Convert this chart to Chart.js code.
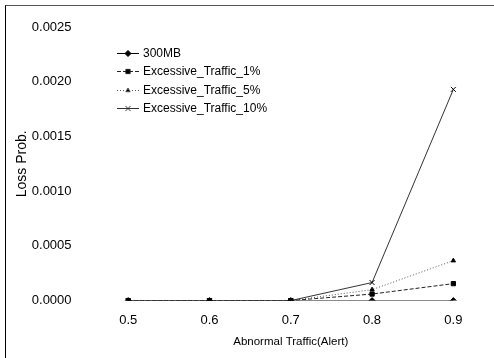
<!DOCTYPE html>
<html>
<head>
<meta charset="utf-8">
<script src="https://cdn.jsdelivr.net/npm/chart.js@4"></script>
<style>
    body { margin: 0; background: white; }
    #wrap { position: relative; width: 494px; height: 358px; overflow: hidden; }
    #frame { position: absolute; left: 5px; top: 5px; right: 0; bottom: 0;
        border-left: 1px solid #000; border-top: 1px solid #555; }
    canvas { position: absolute; left: 0; top: 0; }
</style>
</head>
<body>
<div id="wrap">
    <div id="frame"></div>
    <canvas id="lossChart" width="499" height="358"></canvas>
</div>
<script>
var alertLevels = ['0.5', '0.6', '0.7', '0.8', '0.9'];
var seriesNames = ['300MB', 'Excessive_Traffic_1%', 'Excessive_Traffic_5%', 'Excessive_Traffic_10%'];
var mb300 = [0, 0, 0, 0, 0];
var excessive1 = [0, 0, 0, 0.00006, 0.000155];
var excessive5 = [0, 0, 0, 0.0001, 0.000365];
var excessive10 = [0, 0, 0, 0.000165, 0.00193];
var yTicks = [0, 0.0005, 0.001, 0.0015, 0.002, 0.0025];

var ctx = document.getElementById('lossChart').getContext('2d');
Chart.defaults.font.family = '"Liberation Sans", Arial, sans-serif';
Chart.defaults.font.size = 12;
Chart.defaults.color = '#000';

function ds(label, data, pointStyle, dash, color, radius) {
    return {
        label: label,
        data: data,
        borderColor: color,
        backgroundColor: '#000',
        borderWidth: 1,
        borderDash: dash,
        pointStyle: pointStyle,
        pointRadius: radius,
        pointBorderColor: '#000',
        pointBorderWidth: 1,
        tension: 0
    };
}

// legend drawn inside the plot, line + marker like the original
var innerLegend = {
    id: 'innerLegend',
    afterDraw: function (chart) {
        var c = chart.ctx;
        var x0 = 117, y0 = 53, rowH = 18.3;
        c.save();
        chart.data.datasets.forEach(function (d, i) {
            var y = Math.round(y0 + i * rowH) + 0.5;
            c.strokeStyle = d.borderColor;
            c.lineWidth = 1;
            c.setLineDash(d.borderDash || []);
            c.beginPath();
            c.moveTo(x0, y);
            c.lineTo(x0 + 22, y);
            c.stroke();
            c.setLineDash([]);
            Chart.helpers.drawPoint(c, {
                pointStyle: d.pointStyle, radius: d.pointRadius, rotation: 0, borderWidth: 1
            }, x0 + 11, y);
            c.fillStyle = '#000';
            c.font = '12px "Liberation Sans", Arial, sans-serif';
            c.textBaseline = 'middle';
            c.fillText(d.label, x0 + 26, y);
        });
        c.restore();
    }
};

var lossChart = new Chart(ctx, {
    type: 'line',
    data: {
        labels: alertLevels,
        datasets: [
            ds(seriesNames[0], mb300, 'rectRot', [], '#000', 3),
            ds(seriesNames[1], excessive1, 'rect', [4, 2], '#222', 3),
            ds(seriesNames[2], excessive5, 'triangle', [1, 2], '#555', 2.5),
            ds(seriesNames[3], excessive10, 'crossRot', [], '#333', 3.5)
        ]
    },
    options: {
        responsive: false,
        animation: false,
        layout: {
            padding: { left: 12, right: 0, top: 27, bottom: 9 }
        },
        scales: {
            x: {
                offset: true,
                grid: { display: false, drawTicks: false },
                border: { display: false },
                ticks: { padding: 12, font: { size: 13 } },
                title: { display: true, text: 'Abnormal Traffic(Alert)', font: { size: 11.5 }, padding: { top: -5, bottom: 0 } }
            },
            y: {
                min: 0,
                max: 0.0025,
                afterBuildTicks: function (axis) {
                    axis.ticks = yTicks.map(function (v) { return { value: v }; });
                },
                grid: { display: false, drawTicks: false },
                border: { display: false },
                ticks: {
                    padding: 16,
                    font: { size: 13 },
                    callback: function (value) { return value.toFixed(4); }
                },
                // tick padding counts twice in the axis width, pull the title back in
                title: { display: true, text: 'Loss Prob.', font: { size: 14 }, padding: { top: 2, bottom: -15 } }
            }
        },
        plugins: {
            legend: { display: false },
            tooltip: { enabled: false }
        }
    },
    plugins: [innerLegend]
});
</script>
</body>
</html>
